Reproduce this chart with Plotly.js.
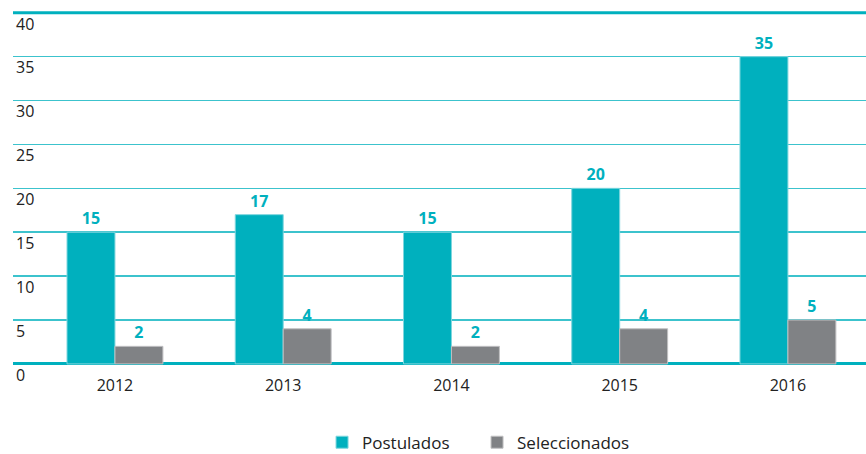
<!DOCTYPE html>
<html><head><meta charset="utf-8">
<script src="https://cdn.plot.ly/plotly-3.0.1.min.js"></script>
<style>body{margin:0;background:#fff}#c{width:866px;height:454px}</style>
</head><body><div id="c"></div>
<script>
const years = ['2012','2013','2014','2015','2016'];
const postulados = [15, 17, 15, 20, 35];
const seleccionados = [2, 4, 2, 4, 5];
const yTicks = [0, 5, 10, 15, 20, 25, 30, 35, 40];
const teal = '#00b0be', gray = '#808285';
const lblFont = {family:'Open Sans, sans-serif', size:16, color:teal, weight:'bold'};
const traces = [
 {type:'bar', name:'Postulados', x:years, y:postulados, marker:{color:teal, line:{width:1,color:'#7fd6de'}},
  text:postulados.map(String), textposition:'outside', textfont:lblFont, cliponaxis:false},
 {type:'bar', name:'Seleccionados', x:years, y:seleccionados, marker:{color:gray, line:{width:1,color:'#c0c0c2'}},
  text:seleccionados.map(String), textposition:'outside', textfont:lblFont, cliponaxis:false}
];
const layout = {
 width:866, height:454, margin:{l:13, r:0, t:4, b:55, autoexpand:false},
 paper_bgcolor:'#fff', plot_bgcolor:'#fff',
 barmode:'group', bargap:0.43, bargroupgap:0,
 font:{family:'Open Sans, sans-serif', color:'#222'},
 xaxis:{type:'category', range:[-0.606, 4.464], showgrid:false, showline:false, ticks:'', tickfont:{size:16, color:'#222'}, ticklabelstandoff:-25, automargin:false},
 yaxis:{range:[-4, 41], tickvals:yTicks, ticktext:yTicks.map(String), gridcolor:'#3cc3cd', gridwidth:1.5,
   zeroline:true, zerolinecolor:'#00b0be', zerolinewidth:3, showline:false, ticks:'', automargin:false,
   ticklabelposition:'inside bottom', tickfont:{size:16, color:'#222'}},
 showlegend:true,
 legend:{orientation:'h', x:0.544, xanchor:'center', y:-0.065, yanchor:'top', font:{size:17, color:'#222'}, entrywidth:110, entrywidthmode:'pixels', tracegroupgap:0},
 shapes:[{type:'line', xref:'paper', yref:'y', x0:0, x1:1, y0:40, y1:40, line:{color:teal, width:3}}]
};
Plotly.newPlot('c', traces, layout, {displayModeBar:false, staticPlot:true});
</script></body></html>
